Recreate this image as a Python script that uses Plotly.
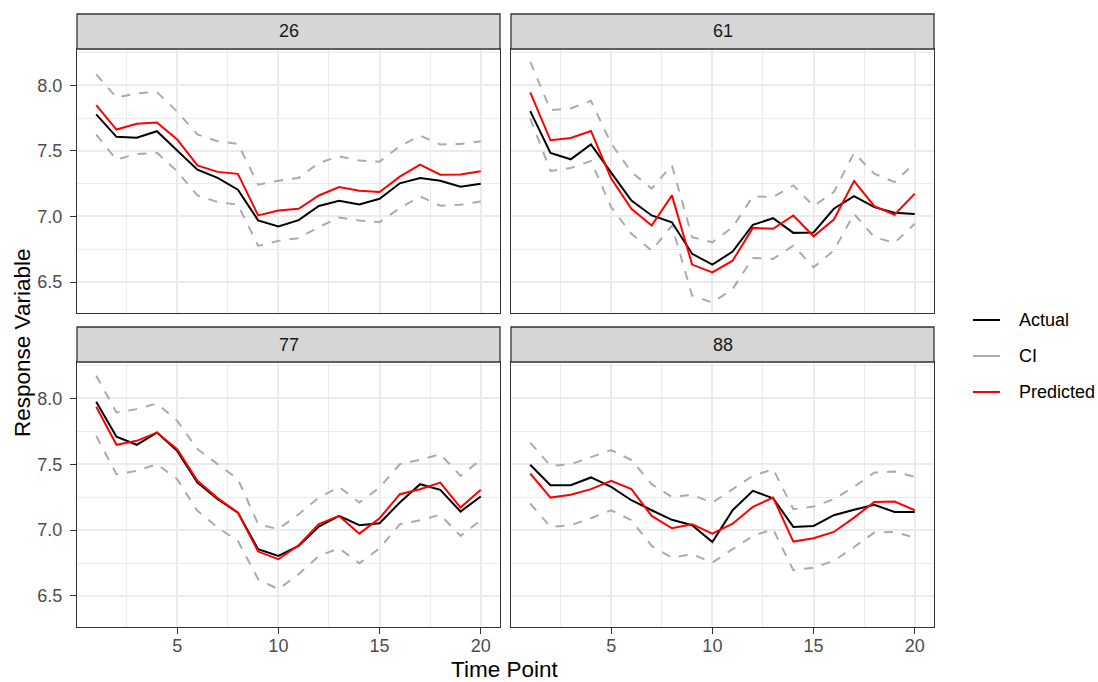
import plotly.graph_objects as go

time_point = list(range(1, 21))
panel_labels = ["26", "61", "77", "88"]
series_names = ["Actual", "CI", "Predicted"]

actual_26 = [7.778, 7.607, 7.600, 7.650, 7.503, 7.357, 7.294, 7.204, 6.970, 6.924, 6.972, 7.080, 7.120, 7.092, 7.135, 7.253, 7.294, 7.273, 7.227, 7.250]
pred_26 = [7.849, 7.663, 7.707, 7.717, 7.587, 7.390, 7.340, 7.325, 7.008, 7.046, 7.059, 7.160, 7.225, 7.197, 7.187, 7.304, 7.396, 7.319, 7.321, 7.344]
upper_26 = [8.084, 7.906, 7.939, 7.949, 7.800, 7.625, 7.574, 7.553, 7.243, 7.273, 7.294, 7.408, 7.459, 7.426, 7.418, 7.536, 7.617, 7.549, 7.553, 7.574]
lower_26 = [7.625, 7.434, 7.477, 7.485, 7.344, 7.160, 7.110, 7.090, 6.776, 6.814, 6.835, 6.919, 6.992, 6.970, 6.957, 7.064, 7.153, 7.082, 7.090, 7.115]

actual_61 = [7.803, 7.484, 7.436, 7.549, 7.334, 7.122, 7.008, 6.956, 6.715, 6.633, 6.732, 6.936, 6.987, 6.875, 6.878, 7.059, 7.155, 7.071, 7.028, 7.018]
pred_61 = [7.946, 7.581, 7.599, 7.652, 7.290, 7.059, 6.931, 7.161, 6.633, 6.574, 6.663, 6.913, 6.906, 7.008, 6.849, 6.977, 7.270, 7.079, 7.013, 7.174]
upper_61 = [8.180, 7.811, 7.824, 7.882, 7.556, 7.339, 7.212, 7.390, 6.842, 6.803, 6.918, 7.153, 7.148, 7.237, 7.079, 7.186, 7.484, 7.327, 7.262, 7.408]
lower_61 = [7.748, 7.347, 7.370, 7.423, 7.071, 6.868, 6.740, 6.931, 6.396, 6.344, 6.447, 6.684, 6.676, 6.778, 6.612, 6.740, 7.020, 6.842, 6.799, 6.944]

actual_77 = [7.975, 7.709, 7.648, 7.741, 7.602, 7.361, 7.235, 7.133, 6.855, 6.804, 6.880, 7.027, 7.108, 7.037, 7.052, 7.210, 7.349, 7.306, 7.141, 7.255]
pred_77 = [7.937, 7.648, 7.678, 7.741, 7.615, 7.374, 7.243, 7.133, 6.837, 6.779, 6.885, 7.045, 7.108, 6.973, 7.090, 7.273, 7.311, 7.361, 7.171, 7.306]
upper_77 = [8.173, 7.894, 7.919, 7.962, 7.830, 7.615, 7.501, 7.387, 7.045, 7.007, 7.121, 7.247, 7.328, 7.210, 7.323, 7.501, 7.534, 7.577, 7.412, 7.534]
lower_77 = [7.716, 7.425, 7.450, 7.501, 7.387, 7.146, 7.019, 6.918, 6.627, 6.551, 6.665, 6.804, 6.862, 6.748, 6.862, 7.045, 7.075, 7.116, 6.956, 7.075]

actual_88 = [7.496, 7.341, 7.341, 7.400, 7.329, 7.227, 7.151, 7.078, 7.037, 6.910, 7.151, 7.298, 7.242, 7.024, 7.032, 7.113, 7.154, 7.192, 7.138, 7.138]
pred_88 = [7.430, 7.247, 7.268, 7.311, 7.374, 7.311, 7.108, 7.014, 7.045, 6.973, 7.049, 7.176, 7.247, 6.913, 6.938, 6.986, 7.095, 7.214, 7.217, 7.151]
upper_88 = [7.665, 7.488, 7.500, 7.551, 7.608, 7.532, 7.349, 7.252, 7.268, 7.209, 7.311, 7.412, 7.463, 7.159, 7.179, 7.235, 7.329, 7.437, 7.445, 7.405]
lower_88 = [7.202, 7.024, 7.037, 7.090, 7.151, 7.075, 6.880, 6.791, 6.817, 6.753, 6.855, 6.956, 7.007, 6.695, 6.715, 6.766, 6.872, 6.981, 6.986, 6.943]

panel_data = {
    "26": (actual_26, pred_26, upper_26, lower_26),
    "61": (actual_61, pred_61, upper_61, lower_61),
    "77": (actual_77, pred_77, upper_77, lower_77),
    "88": (actual_88, pred_88, upper_88, lower_88),
}

W, H = 1098, 682
FONT = "Liberation Sans, Arial, sans-serif"
C_ACT, C_CI, C_PRED = "#000000", "#ABABAB", "#FF0000"
legend_colors = [C_ACT, C_CI, C_PRED]

# pixel layout of panels
px_cols = [(77, 500), (511, 934)]
px_rows = [(49, 313), (362, 627)]
strip_h = 35


def fx(p):
    return p / W


def fy(p):
    return 1 - p / H


fig = go.Figure()
axis_ids = ["", "2", "3", "4"]
shapes = []
annotations = []

for i, lab in enumerate(panel_labels):
    r, c = divmod(i, 2)
    aid = axis_ids[i]
    act, pred, up, lo = panel_data[lab]
    xa, ya = "x" + aid, "y" + aid
    for band in (up, lo):
        fig.add_trace(go.Scatter(x=time_point, y=band, mode="lines", xaxis=xa, yaxis=ya,
                                 line=dict(color=C_CI, width=2, dash="dash"),
                                 showlegend=False, hoverinfo="skip"))
    fig.add_trace(go.Scatter(x=time_point, y=act, mode="lines", xaxis=xa, yaxis=ya,
                             line=dict(color=C_ACT, width=2), showlegend=False))
    fig.add_trace(go.Scatter(x=time_point, y=pred, mode="lines", xaxis=xa, yaxis=ya,
                             line=dict(color=C_PRED, width=2), showlegend=False))

    x0, x1 = px_cols[c]
    y0, y1 = px_rows[r]
    common = dict(showline=True, linecolor="#333333", linewidth=1.3, mirror=True,
                  showgrid=True, gridcolor="#EBEBEB", gridwidth=2, zeroline=False,
                  ticks="outside", ticklen=6, tickcolor="#333333", tickwidth=1.3,
                  tickfont=dict(family=FONT, size=18, color="#4D4D4D"),
                  automargin=False, fixedrange=True)
    xaxis = dict(common, domain=[fx(x0), fx(x1)], range=[0.05, 20.95], tick0=0, dtick=5,
                 minor=dict(dtick=2.5, tick0=0, showgrid=True, gridcolor="#EBEBEB", gridwidth=1),
                 anchor=ya, showticklabels=(r == 1), ticklabelstandoff=-4)
    if r == 0:
        xaxis["ticks"] = ""
    yaxis = dict(common, domain=[fy(y1), fy(y0)], range=[6.264, 8.277], tick0=6.5, dtick=0.5,
                 tickformat=".1f",
                 minor=dict(dtick=0.25, tick0=6.5, showgrid=True, gridcolor="#EBEBEB", gridwidth=1),
                 anchor=xa, showticklabels=(c == 0), ticklabelstandoff=4)
    if c == 1:
        yaxis["ticks"] = ""
    fig.layout["xaxis" + aid] = xaxis
    fig.layout["yaxis" + aid] = yaxis

    # strip
    shapes.append(dict(type="rect", xref="paper", yref="paper",
                       x0=fx(x0), x1=fx(x1), y0=fy(y0), y1=fy(y0 - strip_h),
                       fillcolor="#D6D6D6", line=dict(color="#333333", width=1.3), layer="above"))
    annotations.append(dict(x=fx((x0 + x1) / 2), y=fy(y0 - strip_h / 2), xref="paper", yref="paper",
                            text=lab, showarrow=False, xanchor="center", yanchor="middle",
                            font=dict(family=FONT, size=18, color="#1A1A1A")))

# legend (keys drawn as short lines with text labels)
legend_y = [320, 356, 392]
for name, col, ly in zip(series_names, legend_colors, legend_y):
    shapes.append(dict(type="line", xref="paper", yref="paper",
                       x0=fx(973), x1=fx(1000), y0=fy(ly), y1=fy(ly),
                       line=dict(color=col, width=2)))
    annotations.append(dict(x=fx(1017), y=fy(ly), xref="paper", yref="paper", text=name,
                            showarrow=False, xanchor="left", yanchor="middle",
                            font=dict(family=FONT, size=18, color="#000000")))

annotations.append(dict(x=fx(22), y=fy(343), xref="paper", yref="paper", text="Response Variable",
                        showarrow=False, textangle=-90, xanchor="center", yanchor="middle",
                        font=dict(family=FONT, size=22.5, color="#000000")))
annotations.append(dict(x=fx(505), y=fy(669), xref="paper", yref="paper", text="Time Point",
                        showarrow=False, xanchor="center", yanchor="middle",
                        font=dict(family=FONT, size=22.5, color="#000000")))

fig.update_layout(
    width=W, height=H, margin=dict(l=0, r=0, t=0, b=0),
    template="none", paper_bgcolor="white", plot_bgcolor="white",
    shapes=shapes, annotations=annotations, showlegend=False,
    font=dict(family=FONT),
)

fig.write_html("out.html")
